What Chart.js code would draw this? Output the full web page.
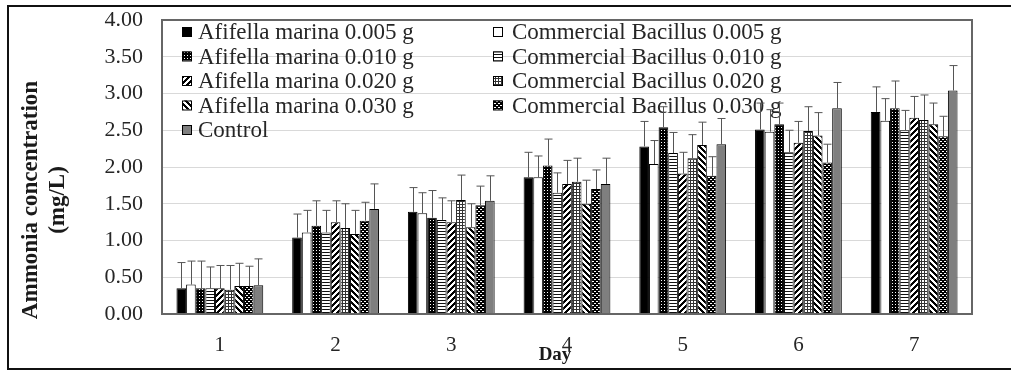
<!DOCTYPE html>
<html>
<head>
<meta charset="utf-8">
<style>
  body { margin: 0; background: #fff; }
  .wrap { position: relative; width: 1011px; height: 371px; overflow: hidden; }
  .frame {
    position: absolute; left: 7px; top: 5px; width: 1100px; height: 361px;
    border: 2px solid #111; pointer-events: none;
  }
</style>
</head>
<body>
<div class="wrap">
  <canvas id="ammonia" width="1011" height="371"></canvas>
  <div class="frame"></div>
</div>

<script src="https://cdn.jsdelivr.net/npm/chart.js"></script>
<script>
const days = ['1', '2', '3', '4', '5', '6', '7'];

const seriesNames = [
  'Afifella marina 0.005 g', 'Commercial Bacillus 0.005 g',
  'Afifella marina 0.010 g', 'Commercial Bacillus 0.010 g',
  'Afifella marina 0.020 g', 'Commercial Bacillus 0.020 g',
  'Afifella marina 0.030 g', 'Commercial Bacillus 0.030 g',
  'Control'
];

// mean ammonia (mg/L) per day
const afifella005 = [0.35, 1.04, 1.39, 1.86, 2.28, 2.51, 2.75];
const bacillus005 = [0.40, 1.11, 1.37, 1.86, 2.04, 2.48, 2.63];
const afifella010 = [0.35, 1.20, 1.31, 2.02, 2.54, 2.58, 2.80];
const bacillus010 = [0.35, 1.11, 1.28, 1.65, 2.19, 2.20, 2.50];
const afifella020 = [0.35, 1.25, 1.25, 1.77, 1.91, 2.33, 2.67];
const bacillus020 = [0.33, 1.17, 1.55, 1.80, 2.12, 2.49, 2.64];
const afifella030 = [0.38, 1.09, 1.18, 1.50, 2.30, 2.43, 2.58];
const bacillus030 = [0.38, 1.27, 1.48, 1.70, 1.88, 2.06, 2.42];
const control     = [0.39, 1.43, 1.54, 1.77, 2.31, 2.80, 3.04];

// standard deviation (upper error bar)
const errAfifella005 = [0.35, 0.32, 0.33, 0.34, 0.34, 0.36, 0.34];
const errBacillus005 = [0.32, 0.30, 0.28, 0.29, 0.32, 0.30, 0.30];
const errAfifella010 = [0.37, 0.34, 0.37, 0.36, 0.28, 0.29, 0.37];
const errBacillus010 = [0.29, 0.30, 0.30, 0.27, 0.28, 0.30, 0.27];
const errAfifella020 = [0.31, 0.29, 0.29, 0.32, 0.29, 0.29, 0.29];
const errBacillus020 = [0.33, 0.33, 0.34, 0.32, 0.32, 0.33, 0.34];
const errAfifella030 = [0.31, 0.32, 0.32, 0.32, 0.31, 0.31, 0.29];
const errBacillus030 = [0.27, 0.25, 0.26, 0.26, 0.26, 0.25, 0.27];
const errControl     = [0.36, 0.34, 0.34, 0.35, 0.35, 0.35, 0.34];

const yTicks = [0, 0.5, 1, 1.5, 2, 2.5, 3, 3.5, 4];

const allValues = [afifella005, bacillus005, afifella010, bacillus010, afifella020,
                   bacillus020, afifella030, bacillus030, control];
const allErrors = [errAfifella005, errBacillus005, errAfifella010, errBacillus010, errAfifella020,
                   errBacillus020, errAfifella030, errBacillus030, errControl];

const SERIF = "'Liberation Serif', 'Times New Roman', serif";
const ctx = document.getElementById('ammonia');
const g2d = ctx.getContext('2d');

// small tiles for the black & white fills
function tile(w, h, paint) {
  const c = document.createElement('canvas');
  c.width = w; c.height = h;
  const t = c.getContext('2d');
  paint(t, w, h);
  return g2d.createPattern(c, 'repeat');
}
function pixels(period, test) {
  return tile(period, period, function(t, w, h) {
    t.fillStyle = '#fff'; t.fillRect(0, 0, w, h);
    t.fillStyle = '#000';
    for (let x = 0; x < w; x++)
      for (let y = 0; y < h; y++)
        if (test(x, y)) t.fillRect(x, y, 1, 1);
  });
}

const fills = [
  '#000000',
  '#ffffff',
  tile(3, 3, function(t) { t.fillStyle = '#000'; t.fillRect(0, 0, 3, 3); t.fillStyle = '#fff'; t.fillRect(1, 1, 1, 1); }),
  tile(4, 3, function(t) { t.fillStyle = '#fff'; t.fillRect(0, 0, 4, 3); t.fillStyle = '#111'; t.fillRect(0, 0, 4, 1); }),
  pixels(6, function(x, y) { return (x + y) % 6 < 3; }),
  tile(3, 3, function(t) { t.fillStyle = '#fff'; t.fillRect(0, 0, 3, 3); t.fillStyle = '#333'; t.fillRect(0, 0, 3, 1); t.fillRect(0, 0, 1, 3); }),
  pixels(6, function(x, y) { return (x - y + 60) % 6 < 3; }),
  tile(4, 4, function(t) { t.fillStyle = '#000'; t.fillRect(0, 0, 4, 4); t.fillStyle = '#fff'; t.fillRect(0, 1, 2, 1); t.fillRect(2, 3, 2, 1); }),
  '#7f7f7f'
];

const datasets = seriesNames.map(function(name, i) {
  return {
    label: name,
    data: allValues[i],
    errors: allErrors[i],
    backgroundColor: fills[i],
    borderColor: '#000',
    borderWidth: 1,
    categoryPercentage: 0.75,
    barPercentage: 1.0
  };
});

// legend in two columns inside the plot, drawn before the bars
const legendInside = {
  id: 'legendInside',
  beforeDatasetsDraw(chart) {
    const c = chart.ctx;
    const colX = [182, 493];
    const rowY = [32, 56.5, 81, 105.5, 130];
    c.save();
    c.font = '23px ' + SERIF;
    c.textBaseline = 'middle';
    seriesNames.forEach(function(name, i) {
      const x = colX[i % 2];
      const y = rowY[Math.floor(i / 2)];
      c.fillStyle = fills[i];
      c.fillRect(x, y - 5, 9, 9);
      c.strokeStyle = '#000';
      c.lineWidth = 1;
      c.strokeRect(x + 0.5, y - 4.5, 9, 9);
      c.fillStyle = '#262626';
      c.fillText(name, x + (i % 2 ? 19 : 16), y + 1);
    });
    c.restore();
  }
};

// upper error bars + plot frame + axis titles
const extras = {
  id: 'extras',
  afterDatasetsDraw(chart) {
    const c = chart.ctx;
    const yScale = chart.scales.y;
    c.save();
    c.strokeStyle = '#555';
    c.lineWidth = 1;
    chart.data.datasets.forEach(function(ds, i) {
      chart.getDatasetMeta(i).data.forEach(function(bar, j) {
        const top = yScale.getPixelForValue(ds.data[j] + ds.errors[j]);
        const x = Math.round(bar.x) + 0.5;
        c.beginPath();
        c.moveTo(x, bar.y);
        c.lineTo(x, top);
        c.moveTo(x - 4, top);
        c.lineTo(x + 4, top);
        c.stroke();
      });
    });
    const a = chart.chartArea;
    c.strokeStyle = '#666';
    c.lineWidth = 2;
    c.strokeRect(a.left, a.top, a.right - a.left, a.bottom - a.top);
    c.restore();
  },
  afterDraw(chart) {
    const c = chart.ctx;
    c.save();
    c.fillStyle = '#1a1a1a';
    c.textAlign = 'center';
    c.textBaseline = 'middle';
    c.font = 'bold 23px ' + SERIF;
    c.translate(31, 200);
    c.rotate(-Math.PI / 2);
    c.fillText('Ammonia concentration', 0, 0);
    c.fillText('(mg/L)', 0, 27);
    c.restore();
    c.save();
    c.fillStyle = '#1a1a1a';
    c.textAlign = 'center';
    c.textBaseline = 'middle';
    c.font = 'bold 19px ' + SERIF;
    c.fillText('Day', 555, 355);
    c.restore();
  }
};

new Chart(ctx, {
  type: 'bar',
  data: {
    labels: days,
    datasets: datasets
  },
  options: {
    responsive: false,
    animation: false,
    devicePixelRatio: 1,
    layout: { padding: { left: 0, right: 39, top: 20, bottom: 0 } },
    plugins: {
      legend: { display: false },
      tooltip: { enabled: false }
    },
    scales: {
      x: {
        grid: { display: false, drawTicks: false },
        border: { display: false },
        ticks: { color: '#262626', padding: 19, font: { family: SERIF, size: 21 } },
        afterFit: function(s) { s.height = 57; }
      },
      y: {
        min: 0,
        max: 4,
        afterBuildTicks: function(s) { s.ticks = yTicks.map(function(v) { return { value: v }; }); },
        grid: { color: '#d9d9d9', drawTicks: false },
        border: { display: false },
        ticks: {
          color: '#262626',
          padding: 19,
          font: { family: SERIF, size: 22 },
          callback: function(v) { return Number(v).toFixed(2); }
        },
        afterFit: function(s) {
          s.width = 162;
          s.paddingTop = 0;
          s.paddingBottom = 0;
        }
      }
    }
  },
  plugins: [legendInside, extras]
});
</script>
</body>
</html>
